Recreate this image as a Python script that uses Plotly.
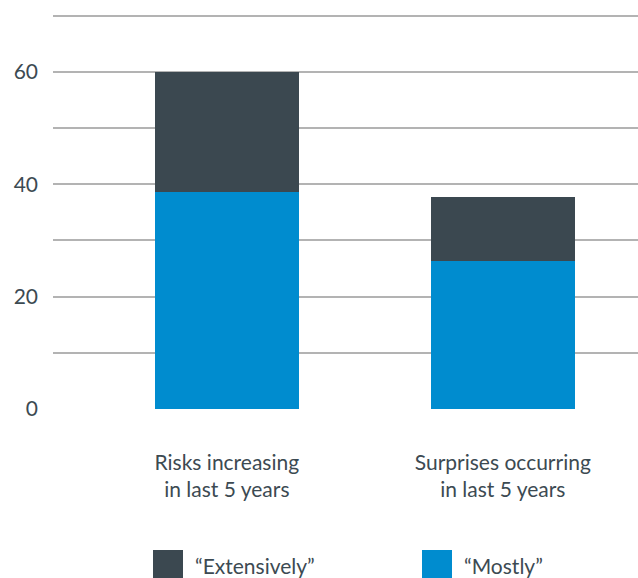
import plotly.graph_objects as go

categories = ["Risks increasing<br>in last 5 years", "Surprises occurring<br>in last 5 years"]
mostly = [38.6, 26.3]
extensively = [21.4, 11.4]
series_names = ["\u201cExtensively\u201d", "\u201cMostly\u201d"]

DARK = "#3b4850"
BLUE = "#008ccf"
TEXT = "#3c4a52"
FONT = "Lato"
FS = 21

fig = go.Figure()
fig.add_trace(go.Bar(x=[0, 1], y=mostly, name=series_names[1], marker_color=BLUE,
                     marker_line_width=0, width=0.522, showlegend=False))
fig.add_trace(go.Bar(x=[0, 1], y=extensively, name=series_names[0], marker_color=DARK,
                     marker_line_width=0, width=0.522, showlegend=False))

PH = 409 - 14  # plot height in px
fig.update_layout(
    barmode="stack",
    width=638, height=578,
    margin=dict(l=53, r=0, t=14, b=169),
    paper_bgcolor="white", plot_bgcolor="white",
    font=dict(family=FONT, color=TEXT, size=FS),
    xaxis=dict(range=[-0.63, 1.49], tickvals=[0, 1], ticktext=categories,
               showgrid=False, zeroline=False, showline=False, ticks="",
               ticklabelstandoff=39, tickfont=dict(size=FS, color=TEXT)),
    yaxis=dict(range=[0, 70.3], tickvals=[0, 10, 20, 30, 40, 50, 60, 70],
               ticktext=["0", "", "20", "", "40", "", "60", ""],
               showgrid=True, gridcolor="#b3b3b3", gridwidth=1.5,
               zeroline=False, showline=False, ticks="",
               ticklabelstandoff=14, tickfont=dict(size=FS, color=TEXT)),
)

# custom legend
legend_items = [(series_names[0], DARK, (153 - 53) / 585), (series_names[1], BLUE, (422 - 53) / 585)]
for name, color, x0 in legend_items:
    fig.add_shape(type="rect", xref="paper", yref="paper",
                  x0=x0, x1=x0 + 30 / 585, y0=-(578 - 409) / PH, y1=-(550 - 409) / PH,
                  fillcolor=color, line_width=0)
    fig.add_annotation(xref="paper", yref="paper", x=x0 + 40 / 585, y=-(565 - 409) / PH,
                       text=name, showarrow=False, xanchor="left", yanchor="middle",
                       font=dict(size=FS, color=TEXT, family=FONT))

fig.write_html("out.html", config={"displayModeBar": False},
               post_script="document.body.style.margin='0';document.body.style.padding='0';")
